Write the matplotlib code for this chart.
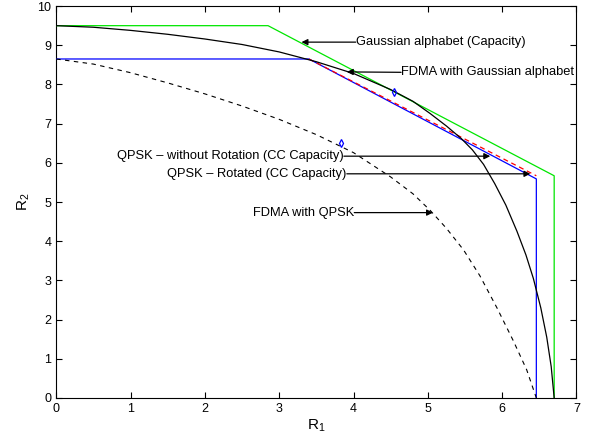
import matplotlib.pyplot as plt

plt.rcParams["font.family"] = ["Liberation Sans", "DejaVu Sans"]

# Gaussian alphabet capacity region (pentagon corners)
gauss_r1 = [0, 2.85, 6.70, 6.70]
gauss_r2 = [9.5, 9.5, 5.67, 0]

# FDMA with Gaussian alphabet
fdma_g_r1 = [0, 0.5, 1.0, 1.5, 2.0, 2.5, 3.0, 3.5, 4.0, 4.5, 4.8, 5.03, 5.25,
             5.45, 5.6, 5.75, 5.9, 6.05, 6.2, 6.32, 6.42, 6.52, 6.6, 6.66, 6.7]
fdma_g_r2 = [9.5, 9.46, 9.38, 9.28, 9.16, 9.02, 8.83, 8.58, 8.28, 7.87, 7.57,
             7.26, 6.94, 6.62, 6.33, 5.96, 5.47, 4.92, 4.25, 3.65, 3.05, 2.3,
             1.55, 0.8, 0]

# QPSK without rotation (CC capacity)
qpsk_r1 = [0, 3.40, 6.46, 6.46]
qpsk_r2 = [8.65, 8.65, 5.59, 0]

# QPSK rotated (CC capacity), sloped face only (rest lies under the blue one)
qpsk_rot_r1 = [3.40, 6.46]
qpsk_rot_r2 = [8.65, 5.67]

# FDMA with QPSK
fdma_q_r1 = [0, 0.5, 1.0, 1.5, 2.0, 2.5, 3.0, 3.5, 4.0, 4.5, 4.8, 5.03, 5.25,
             5.48, 5.7, 5.93, 6.15, 6.33, 6.46]
fdma_q_r2 = [8.65, 8.52, 8.30, 8.04, 7.76, 7.45, 7.11, 6.72, 6.26, 5.64, 5.21,
             4.79, 4.33, 3.78, 3.12, 2.30, 1.46, 0.72, 0]

# optimum points
mark_r1 = [4.545, 3.83]
mark_r2 = [7.81, 6.50]

notes = [
    ("Gaussian alphabet (Capacity)", (3.30, 9.08), (4.03, 9.08), "left"),
    ("FDMA with Gaussian alphabet", (3.91, 8.32), (4.64, 8.31), "left"),
    ("QPSK \u2013 without Rotation (CC Capacity)", (5.84, 6.17), (3.87, 6.17), "right"),
    ("QPSK \u2013 Rotated (CC Capacity)", (6.38, 5.72), (3.91, 5.72), "right"),
    ("FDMA with QPSK", (5.07, 4.73), (4.01, 4.73), "right"),
]

fig = plt.figure(figsize=(5.98, 4.34), dpi=100)
ax = fig.add_axes([0.094, 0.083, 0.870, 0.903])

ax.plot(qpsk_r1, qpsk_r2, color="#0000ff", lw=0.9, zorder=3)
ax.plot(qpsk_rot_r1, qpsk_rot_r2, color="#ff0000", ls=(0, (4, 3)), lw=0.9, zorder=3)
ax.plot(gauss_r1, gauss_r2, color="#00e600", lw=0.9, zorder=3)
ax.plot(fdma_g_r1, fdma_g_r2, color="k", lw=0.9, zorder=4)
ax.plot(fdma_q_r1, fdma_q_r2, color="k", ls=(0, (4, 4)), lw=0.8, zorder=4)
ax.plot(mark_r1, mark_r2, ls="none", marker="d", ms=4, mfc="none",
        mec="#0000ff", mew=0.9, zorder=5)

for text, tip, pos, ha in notes:
    ax.annotate(text, xy=tip, xytext=pos, ha=ha, va="center", fontsize=9.3,
                arrowprops=dict(arrowstyle="-|>", color="k", lw=0.9,
                                mutation_scale=9, shrinkA=0, shrinkB=0,
                                patchA=None,
                                relpos=(0, 0.5) if ha == "left" else (1, 0.5)),
                zorder=6)

ax.set_xlim(0, 7)
ax.set_ylim(0, 10)
ax.set_xticks(range(0, 8))
ax.set_yticks(range(0, 11))
ax.tick_params(direction="in", top=True, right=True, length=4, labelsize=9)
ax.set_xlabel(r"$\mathregular{R_1}$", fontsize=11, labelpad=2)
ax.set_ylabel(r"$\mathregular{R_2}$", fontsize=11, labelpad=4)

fig.savefig("out.png", dpi=100)
